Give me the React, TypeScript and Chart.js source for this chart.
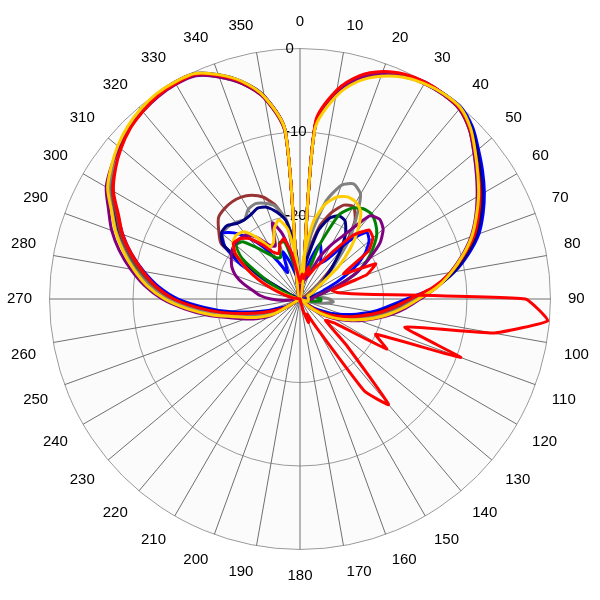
import React, { useEffect, useRef } from 'react';
import { Chart, registerables } from 'chart.js';
Chart.register(...registerables);

// Angle labels every 5 degrees (only every 10 degrees is labelled)
const angleLabels = ['0','','10','','20','','30','','40','','50','','60','','70','','80','','90','','100','','110','','120','','130','','140','','150','','160','','170','','180','','190','','200','','210','','220','','230','','240','','250','','260','','270','','280','','290','','300','','310','','320','','330','','340','','350',''];

const radialTicks = [0, -10, -20, -30];

// Main-lobe patterns (dB), 0..355 deg step 5
const blueMain = [
  -30, -9.3, -5, -2.6, -1.2, -0.4, 0, 0, 0, -0.8, -2.1, -3.3,
  -4.5, -5.8, -7.2, -9.1, -11.2, -13.8, -17.2, -19.5, -21.2, -23, -24.6, -26,
  -27.3, -28.5, -30, -30, -30, -30, -30, -30, -30, -30, -30, -30,
  -30, -30, -30, -30, -30, -30, -30, -30, -30, -30, -30, -30,
  -28.5, -27.5, -26, -24, -21.3, -18.5, -15.4, -13, -11, -9.1, -7.4, -5.9,
  -4.1, -2.9, -1.9, -1.1, -0.6, -0.2, -0.1, -0.3, -1.5, -3.1, -5.4, -9.8,
];
const navyMain = [
  -30, -9.1, -4.9, -2.5, -1.2, -0.4, -0.1, 0, -0.1, -1, -2.3, -3.6,
  -4.8, -6.1, -7.5, -9.3, -11.3, -13.7, -16.8, -19, -20.7, -22.5, -24, -25.5,
  -26.8, -28, -29.5, -30, -30, -30, -30, -30, -30, -30, -30, -30,
  -30, -30, -30, -30, -30, -30, -30, -30, -30, -30, -30, -30,
  -28, -27, -25.5, -23.5, -20.8, -18, -15, -12.6, -10.7, -8.8, -7, -5.6,
  -3.8, -2.7, -1.7, -1, -0.5, -0.1, 0, -0.2, -1.4, -3, -5.3, -9.8,
];
const brownMain = [
  -30, -9, -4.9, -2.6, -1.3, -0.5, -0.2, -0.1, -0.3, -1.3, -2.7, -4,
  -5.2, -6.5, -7.9, -9.7, -11.6, -13.8, -16.5, -18.4, -20, -21.8, -23.4, -24.9,
  -26.2, -27.5, -29, -30, -30, -30, -30, -30, -30, -30, -30, -30,
  -30, -30, -30, -30, -30, -30, -30, -30, -30, -30, -30, -30,
  -27.5, -26.5, -25, -23, -20.3, -17.5, -14.6, -12.4, -10.6, -8.8, -7.1, -5.7,
  -3.9, -2.8, -1.8, -1.1, -0.6, -0.3, -0.2, -0.4, -1.7, -3.3, -5.6, -10.2,
];
const redMain = [
  -30, -8.7, -4.6, -2.3, -1, -0.3, 0, 0, -0.2, -1.2, -2.6, -3.9,
  -5.1, -6.4, -7.8, -9.7, -11.7, -14, -16.8, -18.8, -20.5, -22.3, -23.8, -25.2,
  -26.5, -27.8, -29.2, -30, -30, -30, -30, -30, -30, -30, -30, -30,
  -30, -30, -30, -30, -30, -30, -30, -30, -30, -30, -30, -30,
  -28, -26.8, -25.3, -23.3, -20.6, -17.8, -14.9, -12.7, -10.9, -9.1, -7.4, -6,
  -4.2, -3, -2, -1.2, -0.7, -0.3, -0.2, -0.3, -1.5, -3.1, -5.4, -9.8,
];
const yellowMain = [
  -30, -9.6, -5.4, -3, -1.6, -0.7, -0.2, 0, -0.1, -1.1, -2.6, -4,
  -5.3, -6.7, -8.1, -9.8, -11.6, -13.5, -15.8, -17.6, -19.3, -21, -22.7, -24.2,
  -25.6, -27, -28.5, -30, -30, -30, -30, -30, -30, -30, -30, -30,
  -30, -30, -30, -30, -30, -30, -30, -30, -30, -30, -30, -30,
  -26.5, -25, -23.5, -21.8, -19.2, -16.5, -13.8, -11.6, -9.8, -8.1, -6.5, -5.1,
  -3.4, -2.4, -1.5, -0.8, -0.3, 0, 0, -0.2, -1.4, -3, -5.4, -9.8,
];
const purpleMain = [
  -30, -9.2, -5, -2.7, -1.4, -0.6, -0.2, -0.1, -0.3, -1.3, -2.8, -4.2,
  -5.5, -6.8, -8.2, -9.9, -11.7, -13.5, -15.6, -17.3, -19, -20.8, -22.4, -24,
  -25.4, -26.8, -28.3, -30, -30, -30, -30, -30, -30, -30, -30, -30,
  -30, -30, -30, -30, -30, -30, -30, -30, -30, -30, -30, -30,
  -26, -24.5, -23, -21.3, -18.8, -16.2, -13.5, -11.3, -9.4, -7.6, -6, -4.7,
  -3.2, -2.4, -1.7, -1.1, -0.7, -0.4, -0.3, -0.5, -1.7, -3.3, -5.6, -10,
];
const grayMain = [
  -30, -9.4, -5.2, -2.8, -1.4, -0.6, -0.2, -0.1, -0.3, -1.3, -2.8, -4.1,
  -5.4, -6.7, -8.1, -9.8, -11.7, -13.7, -16, -17.8, -19.5, -21.3, -22.9, -24.4,
  -25.8, -27.2, -28.7, -30, -30, -30, -30, -30, -30, -30, -30, -30,
  -30, -30, -30, -30, -30, -30, -30, -30, -30, -30, -30, -30,
  -27, -25.7, -24.2, -22.3, -19.7, -17, -14.1, -11.9, -10, -8.3, -6.6, -5.2,
  -3.6, -2.6, -1.7, -1.1, -0.6, -0.3, -0.2, -0.4, -1.6, -3.2, -5.5, -10,
];
const greenMain = [
  -30, -9.2, -5, -2.7, -1.3, -0.5, -0.1, 0, -0.2, -1.2, -2.7, -4,
  -5.2, -6.6, -8, -9.7, -11.6, -13.7, -16.3, -18.2, -19.9, -21.7, -23.3, -24.8,
  -26.1, -27.4, -29, -30, -30, -30, -30, -30, -30, -30, -30, -30,
  -30, -30, -30, -30, -30, -30, -30, -30, -30, -30, -30, -30,
  -27.5, -26.2, -24.7, -22.7, -20, -17.3, -14.4, -12.2, -10.4, -8.6, -6.9, -5.5,
  -3.8, -2.7, -1.8, -1.1, -0.6, -0.3, -0.2, -0.4, -1.6, -3.2, -5.5, -10,
];

// Secondary patterns (dB)
const redSide = [
  -28, -27, -27.5, -26, -27, -26, -25, -23, -20, -18.3, -18.6, -20,
  -24, -20, -21.5, -26, -25.5, -23, -3, -0.2, -6.5, -17, -9.5, -20,
  -18, -25, -26, -22, -13.5, -16.5, -26, -28, -27, -28.5, -30, -30,
  -30, -30, -30, -30, -30, -30, -30, -30, -30, -30, -30, -30,
  -30, -30, -30, -30, -30, -30, -30, -30, -29, -28, -26.5, -24.5,
  -22.5, -20.5, -19.6, -19.8, -20.5, -22, -23.5, -24, -23, -22.5, -24.5, -27,
];
const yellowSide = [
  -28, -25, -20.5, -18.2, -17, -16.5, -16.6, -17.3, -19.2, -21.5, -24, -27,
  -28, -28.5, -29, -29, -29, -29, -29, -29, -29, -29, -29.5, -30,
  -30, -30, -30, -30, -30, -30, -30, -30, -30, -30, -30, -30,
  -30, -30, -30, -30, -30, -30, -30, -30, -30, -30, -30, -30,
  -30, -30, -30, -30, -30, -30, -30, -30, -29.5, -28.5, -27, -24.8,
  -22.5, -20.7, -19.5, -19.2, -19.5, -21, -22.8, -22.5, -21, -20.2, -21.5, -25,
];
const graySide = [
  -28, -26, -22, -17.8, -15.5, -14.8, -15.5, -18.3, -21, -24, -26, -28,
  -28.5, -29, -29, -29, -28.5, -27.5, -26.5, -26, -27, -28.5, -29.5, -30,
  -30, -30, -30, -30, -30, -30, -30, -30, -30, -30, -30, -30,
  -30, -30, -30, -30, -30, -30, -30, -30, -30, -30, -30, -30,
  -30, -30, -30, -30, -30, -30, -30, -30, -30, -29.5, -28.5, -26.5,
  -23, -19, -17.9, -17.8, -18, -18.4, -17.6, -17.4, -17.8, -18.5, -20.3, -24,
];
const navySide = [
  -28.5, -27, -25, -21.5, -19.7, -19, -19.2, -20.5, -22.5, -24.5, -26, -27,
  -28, -28.5, -28.5, -28.5, -29, -29, -29, -29, -29.5, -30, -30, -30,
  -30, -30, -30, -30, -30, -30, -30, -30, -30, -30, -30, -30,
  -30, -30, -30, -30, -30, -30, -30, -30, -30, -30, -30, -30,
  -30, -30, -30, -30, -30, -30, -30, -30, -30, -30, -29.5, -28.5,
  -24.5, -18.8, -17.7, -17.6, -18.2, -18.4, -18.3, -18, -18.3, -19.2, -20.5, -24,
];
const blueSide = [
  -28, -27.5, -27, -25, -23, -24, -25, -24, -21, -18.7, -19.2, -20.5,
  -22.5, -25, -27, -28, -28.5, -29, -29.5, -30, -30, -30, -30, -30,
  -30, -30, -30, -30, -30, -30, -30, -30, -30, -30, -30, -30,
  -30, -30, -30, -30, -30, -30, -30, -30, -30, -30, -30, -30,
  -30, -30, -30, -30, -30, -30, -30, -30, -30, -30, -29.5, -27.5,
  -22, -19, -17.8, -18.8, -20.5, -22.5, -25, -26.5, -24, -25.5, -27, -28,
];
const brownSide = [
  -29, -28, -24.5, -21, -19, -17.6, -17.2, -18.5, -21.5, -24.5, -27, -28.5,
  -29, -29.5, -30, -30, -30, -30, -30, -30, -30, -30, -30, -30,
  -30, -30, -30, -30, -30, -30, -30, -30, -30, -30, -30, -30,
  -30, -30, -30, -30, -30, -30, -30, -30, -30, -30, -30, -30,
  -30, -30, -30, -30, -30, -30, -30, -30, -30, -30, -29.5, -28.5,
  -24, -18.5, -17.3, -16.2, -15.9, -15.8, -15.9, -16.3, -17, -18.3, -20.5, -24,
];
const greenSide = [
  -29, -28.5, -28, -27, -23, -18.8, -17.4, -16.8, -16.7, -17.2, -18, -19.3,
  -20.7, -22.5, -25, -27, -28, -28, -27.5, -27.5, -28.5, -29.5, -30, -30,
  -30, -30, -30, -30, -30, -30, -30, -30, -30, -30, -30, -30,
  -30, -30, -30, -30, -30, -30, -30, -30, -30, -30, -30, -30,
  -30, -30, -30, -30, -30, -30, -30, -30, -30, -29, -29, -27.5,
  -25, -21.5, -20, -20.3, -22, -23.4, -24.3, -24.5, -22.8, -23, -26, -28,
];
const purpleSide = [
  -29, -28.5, -28, -27.5, -27, -24.5, -22.5, -20.5, -17, -16.5, -17, -18.3,
  -20.5, -22.5, -25, -27, -28, -28.5, -28.5, -29, -29.5, -30, -30, -30,
  -30, -30, -30, -30, -30, -30, -30, -30, -30, -30, -30, -30,
  -30, -30, -30, -30, -30, -30, -30, -30, -30, -30, -30, -30,
  -30, -30, -30, -30, -30, -28, -26.5, -25.2, -24.3, -23, -21.8, -21,
  -20.5, -20, -19.8, -19.8, -20, -21, -22.5, -23, -20.3, -22, -25, -28,
];

const RED = '#FF0000';
const BLUE = '#0000FF';
const NAVY = '#000080';
const PURPLE = '#800080';
const GREEN = '#008000';
const GRAY = '#808080';
const BROWN = '#993333';
const YELLOW = '#FFCC00';

// first = drawn on top
const seriesList: { name: string; data: number[]; color: string; tension: number }[] = [
  { name: 'red side', data: redSide, color: RED, tension: 0.12 },
  { name: 'yellow side', data: yellowSide, color: YELLOW, tension: 0.2 },
  { name: 'yellow main', data: yellowMain, color: YELLOW, tension: 0.3 },
  { name: 'red main', data: redMain, color: RED, tension: 0.3 },
  { name: 'purple side', data: purpleSide, color: PURPLE, tension: 0.2 },
  { name: 'green side', data: greenSide, color: GREEN, tension: 0.2 },
  { name: 'navy side', data: navySide, color: NAVY, tension: 0.2 },
  { name: 'blue side', data: blueSide, color: BLUE, tension: 0.2 },
  { name: 'gray side', data: graySide, color: GRAY, tension: 0.2 },
  { name: 'brown side', data: brownSide, color: BROWN, tension: 0.2 },
  { name: 'purple main', data: purpleMain, color: PURPLE, tension: 0.3 },
  { name: 'gray main', data: grayMain, color: GRAY, tension: 0.3 },
  { name: 'brown main', data: brownMain, color: BROWN, tension: 0.3 },
  { name: 'navy main', data: navyMain, color: NAVY, tension: 0.3 },
  { name: 'blue main', data: blueMain, color: BLUE, tension: 0.3 },
  { name: 'green main', data: greenMain, color: GREEN, tension: 0.3 },
];

const FONT = "'Liberation Sans', Arial, sans-serif";

export default function App() {
  const ref = useRef<HTMLCanvasElement | null>(null);
  useEffect(() => {
    document.body.style.margin = '0';
    const canvas = ref.current;
    if (!canvas) return;
    const chart = new Chart(canvas, {
      type: 'radar',
      data: {
        labels: angleLabels,
        datasets: seriesList.map((s) => ({
          label: s.name,
          data: s.data,
          borderColor: s.color,
          backgroundColor: 'transparent',
          borderWidth: 3,
          fill: false,
          pointRadius: 0,
          pointHoverRadius: 0,
          tension: s.tension,
          borderJoinStyle: 'round' as const,
        })),
      },
      options: {
        responsive: false,
        animation: false,
        layout: { padding: { left: 6, right: 8, top: 6, bottom: 8 } },
        plugins: { legend: { display: false }, tooltip: { enabled: false } },
        scales: {
          r: {
            min: radialTicks[3],
            max: radialTicks[0],
            startAngle: 0,
            backgroundColor: '#fbfbfb',
            grid: { circular: true, color: '#9a9a9a', lineWidth: 1 },
            angleLines: {
              display: true,
              color: '#707070',
              lineWidth: (ctx: any) => (ctx.index % 2 === 0 ? 1 : 0),
            },
            ticks: {
              stepSize: 10,
              showLabelBackdrop: false,
              color: '#000',
              font: { family: FONT, size: 15 },
              callback: (v: any) => (v === radialTicks[3] ? '' : v === 0 ? '0     ' : v + '  '),
            },
            pointLabels: {
              display: true,
              color: '#000',
              padding: 8,
              font: { family: FONT, size: 15 },
            },
          },
        },
      },
    });
    return () => chart.destroy();
  }, []);
  return (
    <div style={{ width: 600, height: 600 }}>
      <canvas ref={ref} width={600} height={600} style={{ display: 'block' }} />
    </div>
  );
}
